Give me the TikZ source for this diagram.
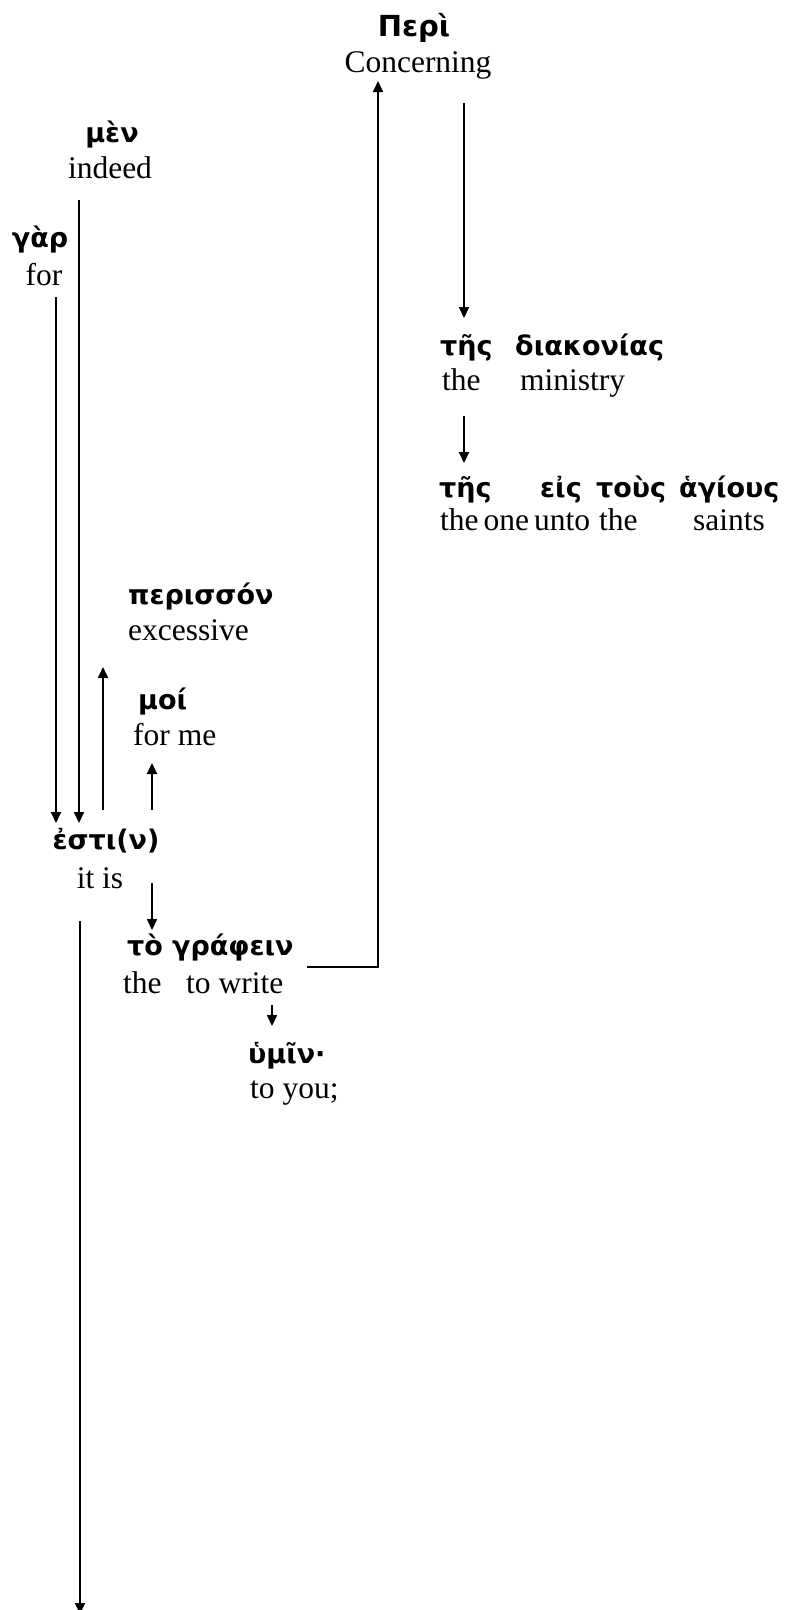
\documentclass[tikz,border=0pt]{standalone}
\usepackage{fontspec}
\setmainfont{Liberation Serif}
\newfontfamily\gkfont{DejaVu Sans}
\usetikzlibrary{arrows.meta}
\tikzset{
  gk/.style={inner sep=0pt, font=\gkfont\bfseries\fontsize{27}{31}\selectfont},
  gkbig/.style={inner sep=0pt, font=\gkfont\bfseries\fontsize{29}{33}\selectfont},
  en/.style={inner sep=0pt, font=\fontsize{31.5}{36}\selectfont},
  arr/.style={line width=2pt, -{Triangle[width=10pt,length=11pt]}},
  ln/.style={line width=2pt}
}
\begin{document}
\begin{tikzpicture}[x=1pt,y=-1pt]
\useasboundingbox (0,0) rectangle (791,1610);
% texts
\node[gkbig,anchor=base] (peri) at (414,36) {Περὶ};
\node[en,anchor=base] (concerning) at (418,72) {Concerning};
\node[gk,anchor=base] (men) at (112,142) {μὲν};
\node[en,anchor=base] (indeed) at (110,178) {indeed};
\node[gk,anchor=base] (gar) at (40,247) {γὰρ};
\node[en,anchor=base] (for) at (44,285) {for};
\node[gk,anchor=base west] (tes1) at (440,355) {τῆς};
\node[gk,anchor=base west] (diakonias) at (515,355) {διακονίας};
\node[en,anchor=base west] (the1) at (442,390) {the};
\node[en,anchor=base west] (ministry) at (520,390) {ministry};
\node[gk,anchor=base west] (tes2) at (439,497) {τῆς};
\node[gk,anchor=base west] (eis) at (540,497) {εἰς};
\node[gk,anchor=base west] (tous) at (596,497) {τοὺς};
\node[gk,anchor=base west] (hagious) at (679,497) {ἁγίους};
\node[en,anchor=base west] (oneunto) at (440,530) {the\hspace{5pt}one\hspace{5pt}unto};
\node[en,anchor=base west] (the2) at (599,530) {the};
\node[en,anchor=base west] (saints) at (693,530) {saints};
\node[gk,anchor=base west] (perisson) at (128,604) {περισσόν};
\node[en,anchor=base west] (excessive) at (128,640) {excessive};
\node[gk,anchor=base west] (moi) at (138,709) {μοί};
\node[en,anchor=base west] (forme) at (133,745) {for me};
\node[gk,anchor=base] (estin) at (106,849) {ἐστι(ν)};
\node[en,anchor=base] (itis) at (100,888) {it is};
\node[gk,anchor=base west] (to) at (127,955) {τὸ};
\node[gk,anchor=base west] (graphein) at (172,955) {γράφειν};
\node[en,anchor=base west] (the3) at (123,993) {the};
\node[en,anchor=base west] (towrite) at (186,993) {to write};
\node[gk,anchor=base west] (hymin) at (248,1063) {ὑμῖν·};
\node[en,anchor=base west] (toyou) at (250,1098) {to you;};
% connector ends
\coordinate (aS) at (56,297);  \coordinate (aE) at (56,823);
\coordinate (bS) at (79,200);  \coordinate (bE) at (79,823);
\coordinate (cS) at (103,810); \coordinate (cE) at (103,667);
\coordinate (dS) at (152,810); \coordinate (dE) at (152,763);
\coordinate (eS) at (152,883); \coordinate (eE) at (152,930);
\coordinate (fS) at (272,1005); \coordinate (fE) at (272,1026);
\coordinate (gS) at (307,967); \coordinate (gE) at (378,81);
\coordinate (hS) at (464,103); \coordinate (hE) at (464,318);
\coordinate (iS) at (464,416); \coordinate (iE) at (464,463);
\coordinate (jS) at (80,921);  \coordinate (jE) at (80,1614);
% connectors
\draw[arr] (aS) -- (aE);
\draw[arr] (bS) -- (bE);
\draw[arr] (cS) -- (cE);
\draw[arr] (dS) -- (dE);
\draw[arr] (eS) -- (eE);
\draw[arr] (fS) -- (fE);
\draw[arr] (gS) -| (gE);
\draw[arr] (hS) -- (hE);
\draw[arr] (iS) -- (iE);
\draw[arr] (jS) -- (jE);
\end{tikzpicture}
\end{document}
